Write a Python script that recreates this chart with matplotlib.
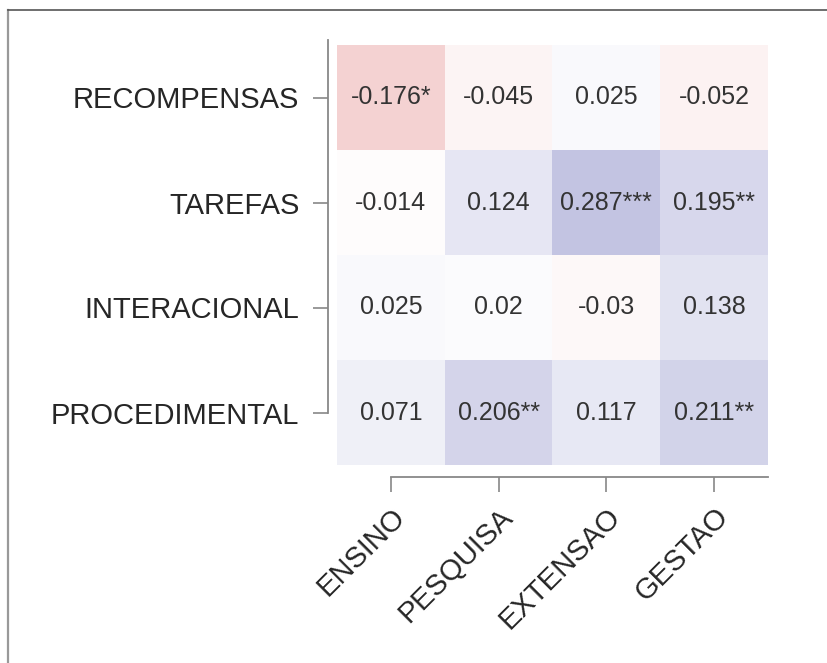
import numpy as np
import matplotlib
matplotlib.use("Agg")
import matplotlib.pyplot as plt
from matplotlib.colors import LinearSegmentedColormap
from matplotlib.lines import Line2D

plt.rcParams['font.family'] = ['Liberation Sans', 'DejaVu Sans']

# correlation table: rows = dimensions, columns = activities
rows = ["RECOMPENSAS", "TAREFAS", "INTERACIONAL", "PROCEDIMENTAL"]
cols = ["ENSINO", "PESQUISA", "EXTENSAO", "GESTAO"]

recompensas = [-0.176, -0.045, 0.025, -0.052]
tarefas = [-0.014, 0.124, 0.287, 0.195]
interacional = [0.025, 0.02, -0.03, 0.138]
procedimental = [0.071, 0.206, 0.117, 0.211]

stars_recompensas = ["*", "", "", ""]
stars_tarefas = ["", "", "***", "**"]
stars_interacional = ["", "", "", ""]
stars_procedimental = ["", "**", "", "**"]

corr = np.array([recompensas, tarefas, interacional, procedimental])
stars = [stars_recompensas, stars_tarefas, stars_interacional, stars_procedimental]

cmap = LinearSegmentedColormap.from_list("rdwbu", ["#c10000", "#ffffff", "#2e319a"])

fig = plt.figure(figsize=(8.28, 6.63), dpi=100)
ax = fig.add_axes([337 / 828, 1 - 465 / 663, 431 / 828, 420 / 663])

ax.pcolormesh(corr, cmap=cmap, vmin=-1, vmax=1)
ax.set_xlim(0, 4)
ax.set_ylim(4, 0)

for i in range(len(rows)):
    for j in range(len(cols)):
        ax.text(j + 0.5, i + 0.5, f"{corr[i, j]}{stars[i][j]}",
                ha="center", va="center", fontsize=18, color="#333333")

# trimmed, offset axis lines (set_position resets ticks, so do it first)
for side in ["top", "right"]:
    ax.spines[side].set_visible(False)
ax.spines["left"].set_position(("outward", 6.5))
ax.spines["bottom"].set_position(("outward", 8.6))
ax.spines["left"].set_bounds(-0.05, 3.5)
ax.spines["bottom"].set_bounds(0.5, 4.0)
for side in ["left", "bottom"]:
    ax.spines[side].set_color("#888888")
    ax.spines[side].set_linewidth(1.3)

ax.tick_params(axis="both", length=10.5, width=1.2, color="#888888",
               labelsize=21, labelcolor="#262626")
ax.tick_params(axis="y", pad=10)
ax.tick_params(axis="x", pad=8)

ax.set_xticks(np.arange(len(cols)) + 0.5)
ax.set_yticks(np.arange(len(rows)) + 0.5)
ax.set_yticklabels(rows)
ax.set_xticklabels(cols, rotation=45, ha="right", va="top", rotation_mode="anchor")

# frame lines along the top and left edge
fig.add_artist(Line2D([8 / 828, 8 / 828], [0, 1 - 10 / 663], transform=fig.transFigure,
                      color="#999999", lw=1.6))
fig.add_artist(Line2D([8 / 828, 1], [1 - 10 / 663, 1 - 10 / 663], transform=fig.transFigure,
                      color="#555555", lw=1.2))

fig.savefig("out.png", dpi=100)
